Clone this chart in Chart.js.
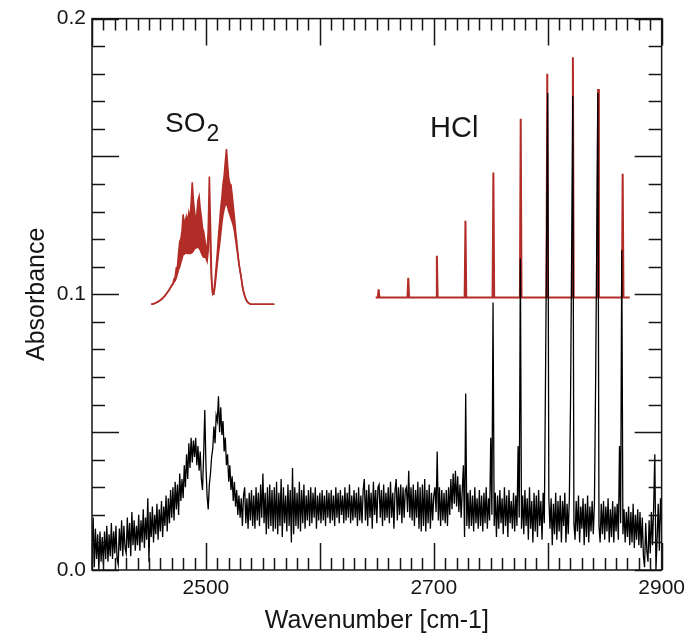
<!DOCTYPE html>
<html>
<head>
<meta charset="utf-8">
<script src="https://cdn.jsdelivr.net/npm/chart.js@4/dist/chart.umd.min.js"></script>
<style>
  html, body { margin: 0; padding: 0; background: #fff; }
  #chart { display: block; }
</style>
</head>
<body>
<canvas id="chart" width="691" height="636"></canvas>
<script>
// --- DATA ---
// measured spectrum (black), one value per cm-1 starting at 2400
const measuredStart = 2400;
const measuredStep = 1;
const measuredAbs = [
  .003,.019,.001,.015,.004,.013,.000,.014,.003,.012, // 2400
  .002,.014,.004,.016,.003,.013,.005,.017,.004,.014,
  .006,.016,.004,.002,.015,.007,.018,.005,.016,.008,
  .006,.019,.008,.017,.005,.021,.009,.018,.007,.016,
  .009,.020,.007,.018,.010,.022,.008,.019,.011,.026,
  .003,.021,.012,.023,.010,.020,.013,.024,.011,.022, // 2450
  .014,.025,.012,.023,.016,.027,.014,.026,.017,.029,
  .019,.030,.018,.032,.022,.031,.020,.035,.025,.033,
  .026,.038,.030,.042,.033,.046,.037,.048,.039,.047,
  .041,.048,.038,.045,.036,.043,.033,.029,.042,.058,
  .038,.027,.022,.031,.035,.041,.044,.052,.046,.056, // 2500
  .054,.063,.050,.059,.049,.054,.043,.048,.038,.042,
  .032,.038,.029,.034,.025,.032,.023,.029,.020,.027,
  .019,.026,.016,.027,.030,.017,.026,.015,.028,.018,
  .029,.016,.027,.015,.030,.018,.028,.016,.031,.019,
  .035,.017,.028,.013,.030,.015,.031,.016,.029,.014, // 2550
  .030,.015,.032,.013,.028,.016,.033,.012,.030,.017,
  .027,.014,.031,.016,.029,.010,.037,.013,.030,.016,
  .028,.015,.032,.014,.029,.017,.031,.015,.027,.018,
  .029,.016,.030,.017,.028,.019,.030,.015,.027,.018,
  .028,.017,.029,.018,.027,.016,.029,.019,.028,.017, // 2600
  .029,.018,.027,.016,.030,.019,.028,.017,.029,.020,
  .027,.017,.030,.018,.028,.019,.031,.017,.027,.018,
  .029,.019,.028,.016,.030,.018,.027,.017,.029,.033,
  .018,.029,.016,.031,.019,.028,.015,.032,.020,.029,
  .017,.030,.031,.019,.029,.016,.031,.018,.028,.019, // 2650
  .030,.017,.032,.019,.028,.015,.029,.033,.018,.030,
  .020,.031,.017,.030,.019,.029,.030,.021,.036,.019,
  .030,.018,.031,.016,.029,.019,.032,.015,.030,.014,
  .031,.016,.033,.014,.029,.017,.031,.015,.028,.018,
  .027,.030,.021,.043,.018,.030,.016,.029,.018,.028, // 2700
  .017,.029,.016,.030,.020,.033,.022,.035,.024,.036,
  .023,.034,.021,.031,.019,.029,.038,.012,.064,.016,
  .028,.015,.029,.016,.027,.014,.030,.017,.026,.015,
  .029,.016,.027,.014,.028,.017,.030,.015,.026,.018,
  .048,.020,.097,.016,.028,.012,.027,.015,.029,.017, // 2750
  .026,.013,.030,.016,.027,.012,.029,.017,.025,.015,
  .028,.014,.027,.016,.045,.019,.113,.015,.027,.013,
  .029,.016,.026,.011,.030,.015,.025,.010,.028,.014,
  .027,.012,.029,.016,.025,.011,.028,.017,.066,.120,
  .173,.026,.015,.026,.009,.024,.013,.028,.011,.025, // 2800
  .014,.027,.010,.025,.016,.028,.010,.024,.013,.026,
  .060,.115,.172,.017,.011,.025,.014,.027,.010,.023,
  .015,.026,.009,.024,.012,.027,.010,.023,.014,.025,
  .013,.024,.066,.118,.173,.016,.010,.024,.013,.025,
  .011,.023,.014,.026,.010,.022,.012,.025,.010,.023, // 2850
  .014,.024,.011,.045,.017,.116,.013,.022,.010,.021,
  .012,.023,.009,.021,.010,.024,.008,.020,.011,.022,
  .009,.021,.008,.019,.005,.001,.017,.007,.003,.018,
  .006,.021,.009,.023,.042,.000,.011,.024,.007,.026,
  .016                                               // 2900
];

// simulated SO2 band (red, offset): upper and lower edge, one value per cm-1 from 2452
const so2Start = 2452;
const so2Upper = [
  .0964,.0965,.0966,.0967,.0969,.0971,.0973,.0976,.0979,.0982, // 2452
  .0986,.0990,.0995,.1000,.1006,.1012,.1018,.1025,.1032,.1038,
  .1055,.1062,.1096,.1100,.1150,.1192,.1200,.1230,.1290,.1250, // 2472
  .1270,.1283,.1260,.1294,.1270,.1330,.1406,.1340,.1300,.1264,
  .1290,.1340,.1355,.1310,.1280,.1240,.1228,.1200,.1170,.1150, // 2492
  .1230,.1427,.1250,.1060,.1002,.1010,.1050,.1100,.1150,.1210,
  .1260,.1312,.1350,.1400,.1430,.1480,.1527,.1470,.1420,.1400, // 2512
  .1397,.1360,.1320,.1280,.1230,.1192,.1150,.1110,.1085,.1060,
  .1030,.1010,.0995,.0983,.0975,.0970,.0967,.0965,.0964,.0964, // 2532
  .0964,.0964,.0964,.0964,.0964,.0964,.0964,.0964,.0964,.0964,
  .0964,.0964,.0964,.0964,.0964,.0964,.0964,.0964,.0964
];
const so2Lower = [
  .0964,.0965,.0966,.0967,.0969,.0971,.0973,.0976,.0979,.0982, // 2452
  .0986,.0990,.0995,.1000,.1006,.1012,.1018,.1025,.1032,.1038,
  .1044,.1050,.1060,.1075,.1090,.1100,.1115,.1130,.1145,.1145, // 2472
  .1150,.1150,.1148,.1150,.1148,.1150,.1152,.1158,.1165,.1168,
  .1170,.1170,.1168,.1160,.1150,.1140,.1135,.1135,.1132,.1120, // 2492
  .1160,.1300,.1150,.1040,.1000,.1000,.1030,.1070,.1110,.1150,
  .1180,.1220,.1260,.1290,.1310,.1325,.1325,.1320,.1300,.1290, // 2512
  .1276,.1264,.1250,.1230,.1200,.1170,.1140,.1110,.1085,.1060,
  .1030,.1010,.0995,.0983,.0975,.0970,.0967,.0965,.0964,.0964, // 2532
  .0964,.0964,.0964,.0964,.0964,.0964,.0964,.0964,.0964,.0964,
  .0964,.0964,.0964,.0964,.0964,.0964,.0964,.0964,.0964
];

// simulated HCl lines (red, offset)
const hclBaseline = 0.0988;
const hclFrom = 2649;
const hclTo = 2872;
const hclLinePos = [2651.6, 2677.6, 2702.7, 2727.8, 2752.3, 2776.3, 2799.6, 2822.1, 2844.2, 2865.8];
const hclLineTop = [0.1018, 0.1060, 0.1140, 0.1267, 0.1442, 0.1637, 0.1800, 0.1860, 0.1745, 0.1437];

// axis labels
const xTickLabels = [2500, 2700, 2900];
const yTickLabels = [0.0, 0.1, 0.2];

// --- BUILD POINTS ---
const measuredPoints = measuredAbs.map((v, i) => ({ x: measuredStart + i * measuredStep, y: v }));
const so2UpperPoints = so2Upper.map((v, i) => ({ x: so2Start + i, y: v }));
const so2LowerPoints = so2Lower.map((v, i) => ({ x: so2Start + i, y: v }));

const hclPoints = [{ x: hclFrom, y: hclBaseline }];
hclLinePos.forEach((w, i) => {
  hclPoints.push({ x: w - 0.7, y: hclBaseline }, { x: w, y: hclLineTop[i] }, { x: w + 0.7, y: hclBaseline });
});
hclPoints.push({ x: hclTo, y: hclBaseline });

const RED = '#b22d27';
const INK = '#161616';
const FONT = '"Liberation Sans", Arial, Helvetica, sans-serif';

// --- FRAME, INWARD TICKS AND TEXT ---
const framePlugin = {
  id: 'frame',
  afterDraw(chart) {
    const { ctx, chartArea: a, scales: { x, y } } = chart;
    ctx.save();
    ctx.strokeStyle = INK;
    ctx.lineWidth = 1.5;
    ctx.beginPath();
    // x ticks: minor every 10, major every 100
    for (let w = 2400; w <= 2900; w += 10) {
      const px = Math.round(x.getPixelForValue(w)) + 0.5;
      const len = (w % 100 === 0) ? 27 : 12;
      ctx.moveTo(px, a.bottom); ctx.lineTo(px, a.bottom - len);
      ctx.moveTo(px, a.top); ctx.lineTo(px, a.top + len);
    }
    // y ticks: minor every 0.01, major every 0.05
    for (let k = 0; k <= 20; k++) {
      const py = Math.round(y.getPixelForValue(k / 100)) + 0.5;
      const len = (k % 5 === 0) ? 27 : 13;
      ctx.moveTo(a.left, py); ctx.lineTo(a.left + len, py);
      ctx.moveTo(a.right, py); ctx.lineTo(a.right - len, py);
    }
    ctx.stroke();
    ctx.strokeRect(a.left, a.top, a.right - a.left, a.bottom - a.top);

    ctx.fillStyle = INK;
    // axis titles
    ctx.font = '25px ' + FONT;
    ctx.textAlign = 'center';
    ctx.textBaseline = 'alphabetic';
    ctx.fillText('Wavenumber [cm-1]', (a.left + a.right) / 2, 628);
    ctx.save();
    ctx.translate(44, (a.top + a.bottom) / 2);
    ctx.rotate(-Math.PI / 2);
    ctx.fillText('Absorbance', 0, 0);
    ctx.restore();

    // band labels
    ctx.textAlign = 'left';
    ctx.font = '28px ' + FONT;
    ctx.fillText('SO', 165, 132);
    const soW = ctx.measureText('SO').width;
    ctx.font = '23px ' + FONT;
    ctx.fillText('2', 165 + soW + 1, 141);
    ctx.font = '29px ' + FONT;
    ctx.fillText('HCl', 430, 137);
    ctx.restore();
  }
};

new Chart(document.getElementById('chart'), {
  type: 'line',
  data: {
    datasets: [
      { label: 'measured', data: measuredPoints, borderColor: '#000', borderWidth: 1.3, fill: false },
      { label: 'SO2 lower', data: so2LowerPoints, borderColor: RED, borderWidth: 1.6, fill: false },
      { label: 'SO2 upper', data: so2UpperPoints, borderColor: RED, borderWidth: 1.6, fill: '-1', backgroundColor: RED },
      { label: 'HCl', data: hclPoints, borderColor: RED, borderWidth: 2, fill: false }
    ]
  },
  options: {
    responsive: false,
    animation: false,
    layout: { padding: { top: 16, right: 28, bottom: 0, left: 0 } },
    elements: { point: { radius: 0 }, line: { tension: 0, borderJoinStyle: 'miter' } },
    plugins: { legend: { display: false }, tooltip: { enabled: false } },
    scales: {
      x: {
        type: 'linear', min: 2400, max: 2900,
        grid: { display: false, drawTicks: false },
        border: { display: false },
        ticks: { color: INK, font: { family: FONT, size: 21 }, padding: 6, autoSkip: false, maxRotation: 0, callback: v => String(v) },
        afterBuildTicks: s => { s.ticks = xTickLabels.map(v => ({ value: v })); },
        afterFit: s => { s.height = 66; }
      },
      y: {
        type: 'linear', min: 0, max: 0.2,
        grid: { display: false, drawTicks: false },
        border: { display: false },
        ticks: { color: INK, font: { family: FONT, size: 21 }, padding: 6, callback: v => v.toFixed(1) },
        afterBuildTicks: s => { s.ticks = yTickLabels.map(v => ({ value: v })); },
        afterFit: s => { s.width = 92; }
      }
    }
  },
  plugins: [framePlugin]
});
</script>
</body>
</html>
